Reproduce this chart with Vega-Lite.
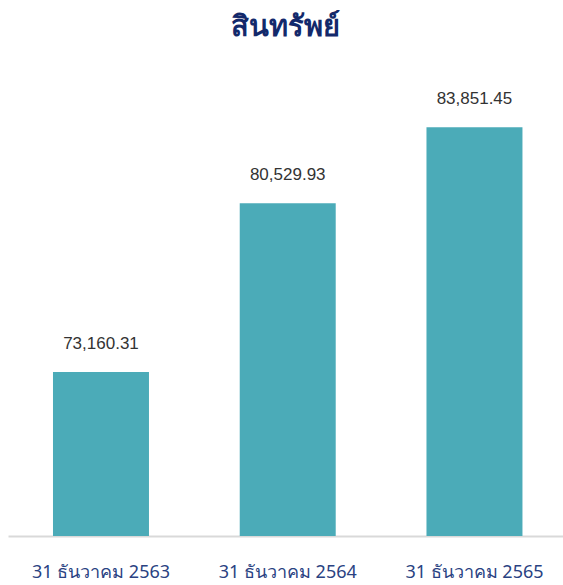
{
  "$schema": "https://vega.github.io/schema/vega-lite/v6.json",
  "autosize": "none",
  "width": 555,
  "height": 458,
  "padding": {"left": 8, "top": 78, "right": 0, "bottom": 49},
  "background": "white",
  "title": {
    "text": "สินทรัพย์",
    "fontSize": 29,
    "fontWeight": "bold",
    "color": "#13296b",
    "font": "Noto Sans",
    "anchor": "middle",
    "offset": 36
  },
  "data": {
    "values": [
      {"date": "31 ธันวาคม 2563", "value": 73160.31},
      {"date": "31 ธันวาคม 2564", "value": 80529.93},
      {"date": "31 ธันวาคม 2565", "value": 83851.45}
    ]
  },
  "encoding": {
    "x": {
      "field": "date",
      "type": "nominal",
      "sort": null,
      "scale": {"paddingInner": 0.486, "paddingOuter": 0.229, "align": 0.526},
      "axis": {
        "title": null,
        "labelAngle": 0,
        "labelFontSize": 18,
        "labelColor": "#2a4282",
        "labelFont": "Noto Sans",
        "labelPadding": 27,
        "ticks": false,
        "domainColor": "#d9d9d9",
        "domainWidth": 2,
        "grid": false
      }
    },
    "y": {
      "field": "value",
      "type": "quantitative",
      "scale": {"domain": [66000, 86000], "zero": false, "nice": false},
      "axis": null
    }
  },
  "layer": [
    {"mark": {"type": "bar", "color": "#4babb8", "clip": true}},
    {
      "mark": {"type": "text", "dy": -19, "baseline": "bottom", "fontSize": 17, "font": "Liberation Sans", "color": "#333333"},
      "encoding": {"text": {"field": "value", "type": "quantitative", "format": ",.2f"}}
    }
  ],
  "config": {"view": {"stroke": null}}
}
